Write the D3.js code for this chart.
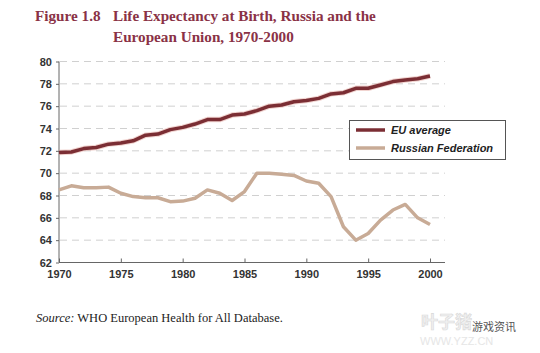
<!DOCTYPE html>
<html><head><meta charset="utf-8">
<script src="https://cdn.jsdelivr.net/npm/d3@7"></script>
<style>body{margin:0;background:#fff}svg{display:block}</style>
</head><body>
<script>
const years = d3.range(1970, 2001);
const euAverage = [71.85,71.9,72.2,72.3,72.6,72.7,72.9,73.4,73.5,73.9,74.1,74.4,74.8,74.8,75.2,75.3,75.6,76.0,76.1,76.4,76.5,76.7,77.1,77.2,77.6,77.6,77.9,78.2,78.35,78.45,78.7];
const russia = [68.5,68.87,68.7,68.7,68.75,68.2,67.9,67.8,67.8,67.45,67.5,67.75,68.5,68.2,67.55,68.35,70.0,70.0,69.9,69.8,69.3,69.1,67.9,65.2,64.0,64.6,65.8,66.7,67.2,66.0,65.4];
const yTicks = [62,64,66,68,70,72,74,76,78,80];
const xTicks = [1970,1975,1980,1985,1990,1995,2000];
const seriesNames = ["EU average","Russian Federation"];

const W = 540, H = 353;
const svg = d3.select("body").append("svg").attr("width", W).attr("height", H);

const x = d3.scaleLinear().domain([1970, 2000]).range([59, 430]);
const y = d3.scaleLinear().domain([62, 80]).range([262.5, 61.5]);
const xEnd = 445;

// title
const titleColor = "#8a3246";
const tf = "'Liberation Serif', 'DejaVu Serif', serif";
svg.append("text").attr("x", 35).attr("y", 21).attr("font-family", tf).attr("font-weight", "bold")
  .attr("font-size", 15.2).attr("fill", titleColor).text("Figure 1.8");
svg.append("text").attr("x", 113).attr("y", 21).attr("font-family", tf).attr("font-weight", "bold")
  .attr("font-size", 15.2).attr("fill", titleColor).text("Life Expectancy at Birth, Russia and the");
svg.append("text").attr("x", 113).attr("y", 42).attr("font-family", tf).attr("font-weight", "bold")
  .attr("font-size", 15.2).attr("fill", titleColor).text("European Union, 1970-2000");

// gridlines
svg.append("g").selectAll("line").data(yTicks.filter(d => d > 62)).join("line")
  .attr("x1", x(1970) + 1).attr("x2", xEnd).attr("y1", d => y(d)).attr("y2", d => y(d))
  .attr("stroke", "#d0d0d0").attr("stroke-width", 1).attr("stroke-dasharray", "7,5");

// axes
const af = "Arial, 'Liberation Sans', sans-serif";
const yAxis = svg.append("g").attr("transform", `translate(${x(1970)},0)`)
  .call(d3.axisLeft(y).tickValues(yTicks).tickSize(3).tickPadding(4).tickFormat(d3.format("d")));
yAxis.select(".domain").attr("stroke", "#666").attr("d", `M0,${y(80)}V${y(62)}`);
yAxis.selectAll(".tick line").attr("stroke", "#666");
yAxis.selectAll("text").attr("font-family", af).attr("font-weight", "bold").attr("font-size", 11).attr("fill", "#333");

const xAxis = svg.append("g").attr("transform", `translate(0,${y(62)})`)
  .call(d3.axisBottom(x).tickValues(xTicks).tickSize(-4).tickPadding(8).tickFormat(d3.format("d")));
xAxis.select(".domain").attr("stroke", "#666").attr("d", `M${x(1970)},0H${xEnd}`);
xAxis.selectAll(".tick line").attr("stroke", "#666");
xAxis.selectAll("text").attr("font-family", af).attr("font-weight", "bold").attr("font-size", 11).attr("fill", "#333");

// lines
const line = d3.line().x((d, i) => x(years[i])).y(d => y(d));
const euColor = "#7b2e34", ruColor = "#c8ab96";
svg.append("path").attr("d", line(euAverage)).attr("fill", "none").attr("stroke", "#e8b8b0")
  .attr("stroke-width", 5.5).attr("stroke-linejoin", "round").attr("opacity", 0.6);
svg.append("path").attr("d", line(euAverage)).attr("fill", "none").attr("stroke", euColor)
  .attr("stroke-width", 3.5).attr("stroke-linejoin", "round");
svg.append("path").attr("d", line(russia)).attr("fill", "none").attr("stroke", ruColor)
  .attr("stroke-width", 3.5).attr("stroke-linejoin", "round");

// legend
const lg = svg.append("g");
lg.append("rect").attr("x", 349.5).attr("y", 120.5).attr("width", 156).attr("height", 39)
  .attr("fill", "#fff").attr("stroke", "#555").attr("stroke-width", 1);
[euColor, ruColor].forEach((c, i) => {
  const yy = 130 + i * 18;
  lg.append("line").attr("x1", 356).attr("x2", 385).attr("y1", yy).attr("y2", yy)
    .attr("stroke", c).attr("stroke-width", 3.5);
  lg.append("text").attr("x", 391).attr("y", yy + 4).attr("font-family", af).attr("font-weight", "bold")
    .attr("font-style", "italic").attr("font-size", 11).attr("fill", "#222").text(seriesNames[i]);
});

// source
const src = svg.append("text").attr("x", 36).attr("y", 322).attr("font-family", tf).attr("font-size", 12.5).attr("fill", "#222");
src.append("tspan").attr("font-style", "italic").text("Source:");
src.append("tspan").text(" WHO European Health for All Database.");

// watermark
svg.append("text").attr("x", 421).attr("y", 328).attr("font-family", "'Noto Sans CJK SC', sans-serif")
  .attr("font-size", 17).attr("font-weight", "bold").attr("fill", "#f0f0f0")
  .attr("stroke", "#d8d8d8").attr("stroke-width", 0.6).text("叶子猪");
svg.append("text").attr("x", 472).attr("y", 331).attr("font-family", "'Noto Sans CJK SC', sans-serif")
  .attr("font-size", 11).attr("fill", "#555").text("游戏资讯");
svg.append("text").attr("x", 420).attr("y", 345).attr("font-family", af)
  .attr("font-size", 11).attr("fill", "#e6e6e6").text("WWW.YZZ.CN");
</script>
</body></html>
